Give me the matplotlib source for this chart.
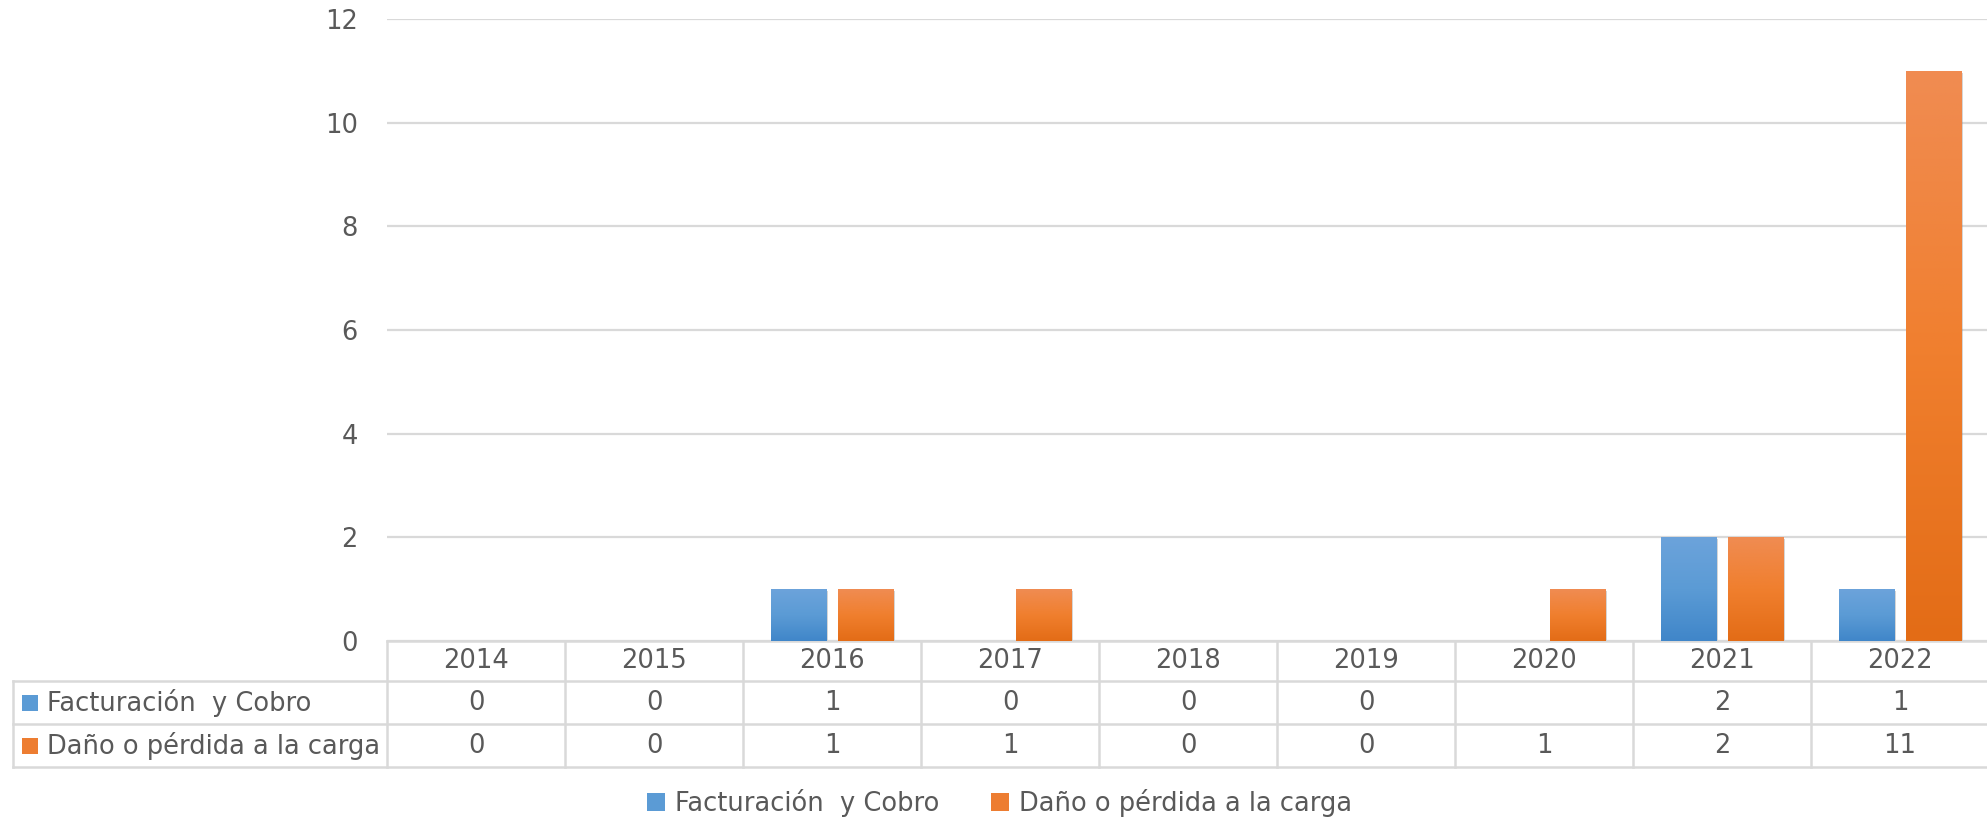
import matplotlib.pyplot as plt
import numpy as np
from matplotlib.colors import LinearSegmentedColormap
from matplotlib.patches import Patch, Rectangle
from matplotlib.lines import Line2D
import matplotlib.patheffects as pe
import matplotlib.transforms as mtransforms

years = ['2014', '2015', '2016', '2017', '2018', '2019', '2020', '2021', '2022']
facturacion = [0, 0, 1, 0, 0, 0, np.nan, 2, 1]
dano = [0, 0, 1, 1, 0, 0, 1, 2, 11]
series_names = ['Facturación  y Cobro', 'Daño o pérdida a la carga']

blue = '#5B9BD5'
orange = '#ED7D31'
blue_cmap = LinearSegmentedColormap.from_list('b', ['#4086C9', '#5B9BD5', '#6CA3DB'])
orange_cmap = LinearSegmentedColormap.from_list('o', ['#E36C16', '#F07F2E', '#F08C52'])
grid_c = '#D9D9D9'
txt_c = '#595959'
fs = 18.5

fig = plt.figure(figsize=(19.87, 8.22), dpi=100)
ax = fig.add_axes([387/1987, (822-641)/822, 1602/1987, 622/822])

x = np.arange(len(years))
w = 0.31
off = 0.19
shadow = [pe.SimplePatchShadow(offset=(1.5, -1.5), shadow_rgbFace='#888888', alpha=0.35), pe.Normal()]
b1 = ax.bar(x - off, facturacion, w, color=blue, zorder=2, path_effects=shadow)
b2 = ax.bar(x + off, dano, w, color=orange, zorder=2, path_effects=shadow)

grad = np.linspace(0, 1, 256).reshape(-1, 1)
for bars, cm in [(b1, blue_cmap), (b2, orange_cmap)]:
    for bar in bars:
        h = bar.get_height()
        if np.isnan(h) or h <= 0:
            continue
        x0, y0 = bar.get_xy()
        im = ax.imshow(grad, extent=[x0, x0 + bar.get_width(), y0, y0 + h],
                       aspect='auto', cmap=cm, origin='lower', zorder=2.5)
        im.set_clip_path(bar)

ax.set_xlim(-0.5, len(years) - 0.5)
ax.set_ylim(0, 12)
ax.set_yticks(np.arange(0, 13, 2))
ax.set_xticks([])
ax.yaxis.grid(True, color=grid_c, lw=1.6)
ax.set_axisbelow(True)
for s in ax.spines.values():
    s.set_visible(False)
ax.tick_params(axis='y', length=0, pad=21, labelsize=fs, labelcolor=txt_c)

# data table under the axis
tr = mtransforms.blended_transform_factory(ax.transData, ax.transAxes)
ax_h = 622.0
rows_y = [0, -40/ax_h, -83/ax_h, -126/ax_h]
left_x = -0.5 - (387 - 13) / 178.0
right_x = len(years) - 0.5 + 0.05
lk = dict(transform=tr, color=grid_c, lw=1.8, clip_on=False)
ax.add_line(Line2D([-0.5, right_x], [rows_y[0], rows_y[0]], **lk))
for yy in rows_y[1:]:
    ax.add_line(Line2D([left_x, right_x], [yy, yy], **lk))
for i in range(len(years) + 1):
    ax.add_line(Line2D([i - 0.5, i - 0.5], [rows_y[0], rows_y[3]], **lk))
ax.add_line(Line2D([left_x, left_x], [rows_y[1], rows_y[3]], **lk))

for i, yr in enumerate(years):
    ax.text(i, (rows_y[0] + rows_y[1]) / 2, yr, transform=tr, ha='center', va='center',
            fontsize=fs, color=txt_c)
for r, (vals, name, col) in enumerate([(facturacion, series_names[0], blue),
                                        (dano, series_names[1], orange)]):
    yc = (rows_y[r + 1] + rows_y[r + 2]) / 2
    for i, v in enumerate(vals):
        s = '' if np.isnan(v) else str(int(v))
        ax.text(i, yc, s, transform=tr, ha='center', va='center', fontsize=fs, color=txt_c)
    sq_x = -0.5 - (387 - 22) / 178.0
    ax.add_patch(Rectangle((sq_x, yc - 8/ax_h), 16/178.0, 16/ax_h, transform=tr,
                           facecolor=col, edgecolor='none', clip_on=False))
    ax.text(-0.5 - (387 - 47) / 178.0, yc, name, transform=tr, ha='left', va='center',
            fontsize=fs, color=txt_c)

handles = [Patch(facecolor=blue), Patch(facecolor=orange)]
fig.legend(handles, series_names, loc='center', bbox_to_anchor=(0.503, 1 - 803/822),
           ncol=2, frameon=False, fontsize=fs, labelcolor=txt_c, handlelength=0.7,
           handleheight=0.7, handletextpad=0.4, columnspacing=2.0)

fig.savefig('out.png', dpi=100)
